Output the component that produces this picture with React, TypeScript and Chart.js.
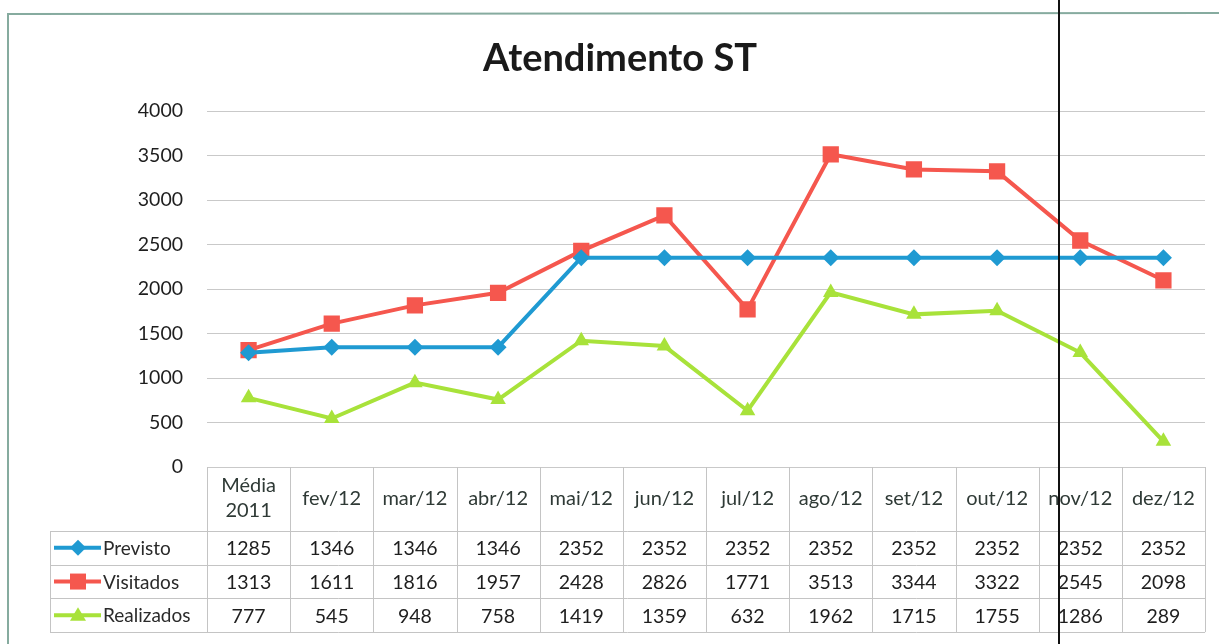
import React, { useEffect, useRef } from "react";
import { Chart, registerables } from "chart.js";

Chart.register(...registerables);

const categories = ["Média\n2011", "fev/12", "mar/12", "abr/12", "mai/12", "jun/12", "jul/12", "ago/12", "set/12", "out/12", "nov/12", "dez/12"];
const previsto = [1285, 1346, 1346, 1346, 2352, 2352, 2352, 2352, 2352, 2352, 2352, 2352];
const visitados = [1313, 1611, 1816, 1957, 2428, 2826, 1771, 3513, 3344, 3322, 2545, 2098];
const realizados = [777, 545, 948, 758, 1419, 1359, 632, 1962, 1715, 1755, 1286, 289];
const seriesNames = ["Previsto", "Visitados", "Realizados"];
const seriesColors = ["#1f9ad2", "#f5574e", "#a8e23a"];
const yTicks = [0, 500, 1000, 1500, 2000, 2500, 3000, 3500, 4000];
const title = "Atendimento ST";

const FONT = "Lato, 'Open Sans', sans-serif";

function drawMarker(ctx: CanvasRenderingContext2D, kind: number, x: number, y: number, color: string) {
  ctx.save();
  ctx.fillStyle = color;
  ctx.beginPath();
  if (kind === 0) {
    const r = 8;
    ctx.moveTo(x, y - r);
    ctx.lineTo(x + r, y);
    ctx.lineTo(x, y + r);
    ctx.lineTo(x - r, y);
    ctx.closePath();
  } else if (kind === 1) {
    const s = 8;
    ctx.rect(x - s, y - s, 2 * s, 2 * s);
  } else {
    const r = 8;
    ctx.moveTo(x, y - r);
    ctx.lineTo(x + r, y + r * 0.7);
    ctx.lineTo(x - r, y + r * 0.7);
    ctx.closePath();
  }
  ctx.fill();
  ctx.restore();
}

const tablePlugin = {
  id: "tablePlugin",
  beforeDraw(chart: any) {
    const ctx = chart.ctx as CanvasRenderingContext2D;
    ctx.save();
    ctx.fillStyle = "#ffffff";
    ctx.fillRect(0, 0, chart.width, chart.height);
    ctx.restore();
  },
  afterDraw(chart: any) {
    const ctx = chart.ctx as CanvasRenderingContext2D;
    const area = chart.chartArea;
    const xs = chart.scales.x;
    const n = categories.length;
    const colW = (area.right - area.left) / n;
    const top = area.bottom;
    const headerBottom = top + 64;
    const rowH = 33.7;
    const legendLeft = 50;
    const bottom = headerBottom + rowH * 3;

    ctx.save();
    // title
    ctx.fillStyle = "#1a1a1a";
    ctx.font = `bold 38px ${FONT}`;
    ctx.textAlign = "center";
    ctx.textBaseline = "middle";
    ctx.fillText(title, 620, 59);

    // outer frame
    ctx.strokeStyle = "#86ab9f";
    ctx.lineWidth = 2;
    ctx.beginPath();
    ctx.moveTo(8, chart.height);
    ctx.lineTo(8, 14);
    ctx.lineTo(chart.width, 13);
    ctx.stroke();

    // table grid
    ctx.strokeStyle = "#c4c4c4";
    ctx.lineWidth = 1;
    ctx.beginPath();
    for (let i = 0; i <= n; i++) {
      const x = Math.round(area.left + i * colW) + 0.5;
      ctx.moveTo(x, top);
      ctx.lineTo(x, bottom);
    }
    for (let r = 0; r <= 3; r++) {
      const y = Math.round(headerBottom + r * rowH) + 0.5;
      ctx.moveTo(legendLeft, y);
      ctx.lineTo(area.right, y);
    }
    ctx.moveTo(legendLeft + 0.5, headerBottom);
    ctx.lineTo(legendLeft + 0.5, bottom);
    ctx.stroke();

    // header labels
    ctx.fillStyle = "#2f3a36";
    ctx.font = `20px ${FONT}`;
    ctx.textAlign = "center";
    ctx.textBaseline = "middle";
    for (let i = 0; i < n; i++) {
      const cx = xs.getPixelForValue(i);
      const lines = categories[i].split("\n");
      if (lines.length === 2) {
        ctx.fillText(lines[0], cx, top + 19);
        ctx.fillText(lines[1], cx, top + 44);
      } else {
        ctx.fillText(lines[0], cx, top + 32);
      }
    }

    // rows
    const all = [previsto, visitados, realizados];
    for (let r = 0; r < 3; r++) {
      const cy = headerBottom + r * rowH + rowH / 2;
      // legend key
      ctx.strokeStyle = seriesColors[r];
      ctx.lineWidth = 4;
      ctx.beginPath();
      ctx.moveTo(54, cy);
      ctx.lineTo(101, cy);
      ctx.stroke();
      drawMarker(ctx, r, 78, cy, seriesColors[r]);
      ctx.fillStyle = "#2a2a2a";
      ctx.textAlign = "left";
      ctx.font = `19px ${FONT}`;
      ctx.fillText(seriesNames[r], 103, cy + 1);
      ctx.textAlign = "center";
      ctx.fillStyle = "#1e1e1e";
      ctx.font = `19.5px ${FONT}`;
      for (let i = 0; i < n; i++) {
        ctx.fillText(String(all[r][i]), xs.getPixelForValue(i), cy + 1);
      }
    }

    // scan line
    ctx.strokeStyle = "#111111";
    ctx.lineWidth = 2;
    ctx.beginPath();
    ctx.moveTo(1059, 0);
    ctx.lineTo(1059, chart.height);
    ctx.stroke();
    ctx.restore();
  },
};

export default function App() {
  const ref = useRef<HTMLCanvasElement>(null);
  useEffect(() => {
    document.body.style.margin = "0";
    const canvas = ref.current!;
    const mk = (i: number, data: number[], style: string, radius: number) => ({
      label: seriesNames[i],
      data,
      borderColor: seriesColors[i],
      backgroundColor: seriesColors[i],
      borderWidth: 4,
      pointStyle: style,
      pointRadius: radius,
      pointBorderWidth: 0,
      pointBackgroundColor: seriesColors[i],
      tension: 0,
    });
    const chart = new Chart(canvas, {
      type: "line",
      data: {
        labels: categories,
        datasets: [
          mk(0, previsto, "rectRot", 8.5),
          mk(1, visitados, "rect", 11.5),
          mk(2, realizados, "triangle", 9),
        ],
      },
      options: {
        animation: false,
        responsive: false,
        layout: { padding: { top: 111, right: 14, bottom: 177, left: 0 } },
        plugins: {
          legend: { display: false },
          title: { display: false },
          tooltip: { enabled: false },
        },
        scales: {
          x: { type: "category", display: false, offset: true },
          y: {
            min: 0,
            max: 4000,
            afterBuildTicks: (scale: any) => {
              scale.ticks = yTicks.map((v) => ({ value: v }));
            },
            afterFit: (scale: any) => {
              scale.width = 207;
            },
            border: { display: false },
            grid: { color: "#c9c9c9", lineWidth: 1, drawTicks: false },
            ticks: {
              padding: 24,
              color: "#1e1e1e",
              font: { family: FONT, size: 19.5 },
              callback: (v: any) => String(v),
            },
          },
        },
      },
      plugins: [tablePlugin],
    } as any);
    return () => chart.destroy();
  }, []);
  return <canvas ref={ref} width={1219} height={644} style={{ display: "block" }} />;
}
